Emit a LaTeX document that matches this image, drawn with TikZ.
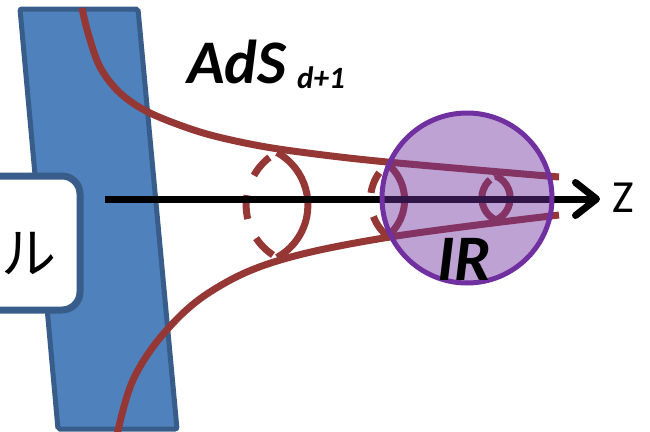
\documentclass[tikz,border=0pt]{standalone}
\usepackage{fontspec}
\setmainfont{Carlito}
\newfontfamily\cjk{Noto Sans CJK JP}
\usetikzlibrary{arrows.meta}
\definecolor{bandfill}{HTML}{4F81BD}
\definecolor{bandline}{HTML}{385D8A}
\definecolor{curvered}{HTML}{953735}
\definecolor{irpurple}{HTML}{7030A0}
\tikzset{
  band/.style={fill=bandfill, draw=bandline, line width=5pt, rounded corners=2pt},
  whitebox/.style={draw=bandline, fill=white, line width=7pt, rounded corners=18pt, minimum width=120pt, minimum height=134pt, inner sep=0pt},
  redcurve/.style={draw=curvered, line width=7pt},
  axisline/.style={draw=black, line width=7pt, -{Straight Barb[length=21pt,width=33pt,round]}},
  irdisk/.style={circle, draw=irpurple, line width=5pt, fill=irpurple, fill opacity=0.45, minimum size=170pt, inner sep=0pt},
  bigbi/.style={font=\bfseries\itshape, inner sep=0pt}
}
\begin{document}
\begin{tikzpicture}[x=1pt,y=-1pt]
\useasboundingbox (0,0) rectangle (650,431);
\begin{scope}
\clip (0,0) rectangle (650,431);
% boundary band
\draw[band] (20,9) -- (138,9) -- (177,429) -- (58,429) -- cycle;
% boundary theory box (cut by the left edge)
\node[whitebox] (box) at (20,243) {};
\node[anchor=base east, inner sep=0pt, font=\cjk\fontsize{55}{55}\selectfont] (boxtext) at (57,273) {ル};
% geodesic-like curves
\draw[redcurve] plot[smooth, tension=0.55] coordinates {(82,8) (88,33) (100,67) (120,93) (150,113) (200,132) (250,144) (300,152) (387,162) (559,177)};
\draw[redcurve] plot[smooth, tension=0.6] coordinates {(117,435) (133,380) (165,332) (210,292) (277,261) (390,237) (559,215)};
% cross sections (front solid, back dashed)
\coordinate (c1) at (277,152.5);
\draw[redcurve] (c1) arc[start angle=-61, end angle=61, radius=60];
\draw[redcurve, dash pattern=on 24pt off 21pt, dash phase=36pt] (c1) arc[start angle=-119, end angle=-241, radius=60];
\coordinate (c2) at (387.5,164);
\draw[redcurve] (c2) arc[start angle=-50.7, end angle=50.7, radius=46.6];
\draw[redcurve, dash pattern=on 22pt off 24pt, dash phase=34pt] (c2) arc[start angle=-129.3, end angle=-230.7, radius=46.6];
\coordinate (c3) at (496,176);
\draw[redcurve] (c3) arc[start angle=-65.6, end angle=65.6, radius=24.2];
\draw[redcurve, dash pattern=on 2pt off 5pt on 200pt] (c3) arc[start angle=-114.4, end angle=-245.6, radius=24.2];
% z axis
\coordinate (zs) at (105,199);
\coordinate (ze) at (600,199);
\draw[axisline] (zs) -- (ze);
% IR region
\node[irdisk] (ir) at (467,198) {};
\end{scope}
\node[bigbi, anchor=base west, font=\bfseries\itshape\fontsize{65}{65}\selectfont] (irlabel) at (437,280) {IR};
\node[bigbi, anchor=base west, font=\bfseries\itshape\fontsize{62}{62}\selectfont] (ads) at (187,83) {AdS};
\node[bigbi, anchor=base west, font=\bfseries\itshape\fontsize{31}{31}\selectfont] (adssub) at (297,88) {d+1};
\node[anchor=base west, inner sep=0pt, font=\fontsize{46}{46}\selectfont] (zlabel) at (612,212) {Z};
\end{tikzpicture}
\end{document}
